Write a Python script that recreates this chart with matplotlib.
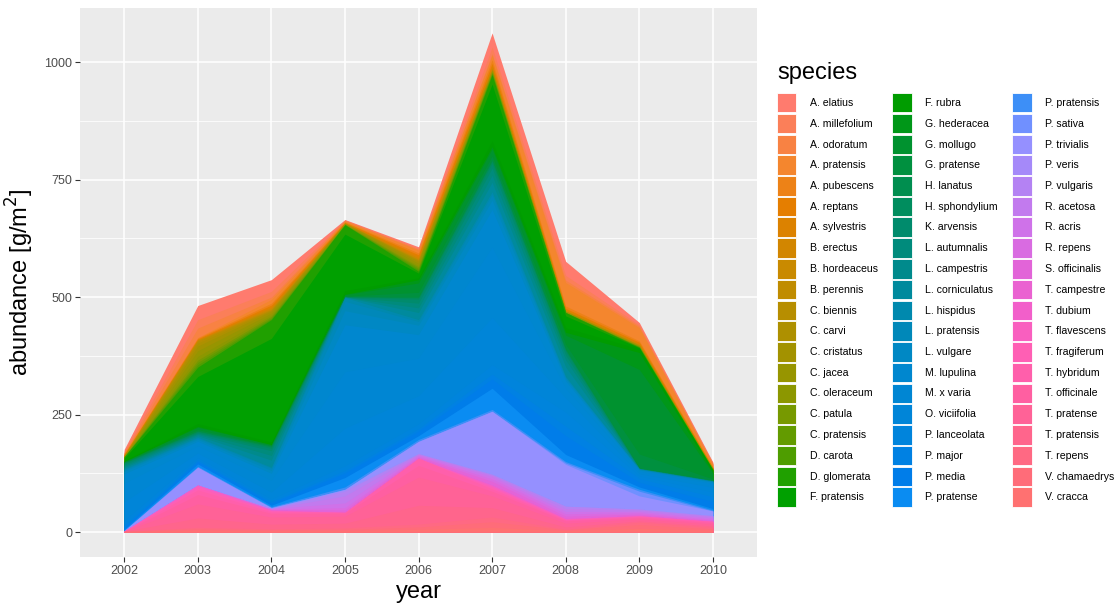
import numpy as np
import matplotlib.pyplot as plt
from matplotlib.patches import Rectangle
from matplotlib.colors import to_rgb
from matplotlib.ticker import MultipleLocator

plt.rcParams['font.family'] = ['Liberation Sans', 'DejaVu Sans']

years = [2002, 2003, 2004, 2005, 2006, 2007, 2008, 2009, 2010]

species = [
    "A. elatius", "A. millefolium", "A. odoratum", "A. pratensis", "A. pubescens",
    "A. reptans", "A. sylvestris", "B. erectus", "B. hordeaceus", "B. perennis",
    "C. biennis", "C. carvi", "C. cristatus", "C. jacea", "C. oleraceum",
    "C. patula", "C. pratensis", "D. carota", "D. glomerata", "F. pratensis",
    "F. rubra", "G. hederacea", "G. mollugo", "G. pratense", "H. lanatus",
    "H. sphondylium", "K. arvensis", "L. autumnalis", "L. campestris", "L. corniculatus",
    "L. hispidus", "L. pratensis", "L. vulgare", "M. lupulina", "M. x varia",
    "O. viciifolia", "P. lanceolata", "P. major", "P. media", "P. pratense",
    "P. pratensis", "P. sativa", "P. trivialis", "P. veris", "P. vulgaris",
    "R. acetosa", "R. acris", "R. repens", "S. officinalis", "T. campestre",
    "T. dubium", "T. flavescens", "T. fragiferum", "T. hybridum", "T. officinale",
    "T. pratense", "T. pratensis", "T. repens", "V. chamaedrys", "V. cracca",
]

# abundance [g/m2] per species and year, 2002..2010
grasses_a_to_f = [
    [4, 30, 25, 1, 3, 30, 30, 5, 2],        # A. elatius
    [3, 18, 12, 1, 2, 14, 10, 3, 2],        # A. millefolium
    [1, 20, 5, 1, 2, 3, 5, 3, 1],           # A. odoratum
    [2, 1, 8, 2, 6, 10, 50, 28, 5],         # A. pratensis
    [1, 2, 4, 1, 4, 8, 5, 3, 2],            # A. pubescens
    [1, 1, 3, 1, 3, 5, 2, 2, 1],            # A. reptans
    [1, 1, 2, 1, 3, 3, 2, 2, 1],            # A. sylvestris
    [0, 1, 2, 0, 2, 2, 1, 1, 0],            # B. erectus
    [0, 0, 2, 0, 2, 2, 1, 1, 0],            # B. hordeaceus
    [1, 2, 1, 0, 1, 0, 0, 0, 0],            # B. perennis
    [0, 4, 1, 0, 1, 1, 0, 0, 0],            # C. biennis
    [0, 6, 2, 0, 2, 1, 0, 1, 0],            # C. carvi
    [1, 10, 4, 1, 4, 2, 1, 1, 1],           # C. cristatus
    [1, 12, 4, 1, 5, 2, 1, 1, 1],           # C. jacea
    [0, 8, 3, 0, 3, 1, 1, 0, 0],            # C. oleraceum
    [0, 5, 3, 1, 3, 1, 0, 1, 0],            # C. patula
    [0, 5, 2, 0, 3, 2, 0, 0, 0],            # C. pratensis
    [0, 5, 2, 0, 3, 2, 0, 1, 0],            # D. carota
    [3, 20, 40, 20, 4, 20, 7, 1, 1],        # D. glomerata
    [5, 100, 220, 120, 10, 120, 25, 2, 1],  # F. pratensis
]

species_f_to_p = [
    [2, 6, 6, 8, 4, 13, 10, 8, 4],          # F. rubra
    [0, 2, 0, 1, 7, 5, 6, 36, 2],           # G. hederacea
    [1, 5, 2, 3, 20, 15, 20, 180, 12],      # G. mollugo
    [1, 3, 1, 1, 10, 8, 10, 30, 3],         # G. pratense
    [1, 1, 2, 0, 2, 3, 2, 0, 0],            # H. lanatus
    [1, 2, 3, 1, 3, 5, 3, 1, 1],            # H. sphondylium
    [3, 2, 5, 0, 8, 10, 8, 0, 0],           # K. arvensis
    [3, 2, 10, 0, 10, 15, 10, 0, 0],        # L. autumnalis
    [3, 3, 10, 0, 10, 15, 15, 0, 0],        # L. campestris
    [3, 3, 15, 1, 15, 20, 20, 1, 1],        # L. corniculatus
    [2, 2, 2, 8, 4, 6, 2, 0, 0],            # L. hispidus
    [3, 3, 5, 20, 8, 12, 3, 1, 1],          # L. pratensis
    [5, 4, 6, 30, 20, 20, 5, 1, 1],         # L. vulgare
    [20, 10, 15, 100, 50, 80, 16, 3, 3],    # M. lupulina
    [40, 15, 25, 120, 80, 150, 20, 5, 8],   # M. x varia
    [40, 10, 15, 80, 60, 100, 30, 5, 10],   # O. viciifolia
    [10, 5, 5, 10, 10, 20, 30, 5, 10],      # P. lanceolata
    [3, 3, 3, 5, 5, 10, 20, 8, 10],         # P. major
    [5, 5, 5, 10, 10, 20, 40, 10, 15],      # P. media
    [2, 5, 3, 20, 8, 45, 15, 5, 3],         # P. pratense
]

species_p_to_v = [
    [1, 2, 2, 5, 4, 4, 3, 4, 2],            # P. pratensis
    [0, 0, 0, 0, 0, 0, 3, 10, 0],           # P. sativa
    [1, 38, 2, 1, 26, 134, 89, 28, 10],     # P. trivialis
    [0, 0, 0, 3, 0, 0, 0, 0, 0],            # P. veris
    [0, 0, 0, 10, 1, 2, 5, 2, 2],           # P. vulgaris
    [0, 0, 0, 15, 2, 3, 6, 3, 3],           # R. acetosa
    [0, 0, 1, 10, 2, 5, 5, 3, 3],           # R. acris
    [0, 0, 1, 5, 2, 5, 5, 3, 2],            # R. repens
    [0, 0, 1, 5, 3, 8, 5, 3, 2],            # S. officinalis
    [0, 0, 0, 0, 0, 0, 0, 0, 0],            # T. campestre
    [0, 2, 1, 0, 0, 2, 1, 0, 0],            # T. dubium
    [0, 3, 1, 0, 0, 3, 1, 1, 0],            # T. flavescens
    [0, 5, 2, 0, 0, 3, 1, 1, 1],            # T. fragiferum
    [0, 10, 3, 2, 15, 5, 2, 2, 2],          # T. hybridum
    [0, 20, 8, 6, 25, 10, 5, 3, 3],         # T. officinale
    [0, 30, 15, 15, 60, 25, 8, 4, 4],       # T. pratense
    [0, 20, 10, 10, 40, 20, 5, 3, 3],       # T. pratensis
    [0, 3, 2, 3, 6, 10, 1, 5, 3],           # T. repens
    [1, 3, 2, 3, 5, 12, 2, 8, 3],           # V. chamaedrys
    [1, 4, 3, 3, 6, 10, 3, 8, 4],           # V. cracca
]

abundance = np.array(grasses_a_to_f + species_f_to_p + species_p_to_v, dtype=float)

# hue ramp through the species, built from a few fixed stops
stops = {
    0: "#FF7B6E", 3: "#F4862E", 5: "#E57E00", 8: "#C98A00", 11: "#AE9000",
    14: "#8C9700", 17: "#4E9D00", 18: "#20A000", 19: "#00A000", 20: "#009C00",
    22: "#00922F", 24: "#008E4F", 26: "#008B6C", 28: "#008A8C", 30: "#0089AE",
    33: "#0087CF", 36: "#0084DC", 38: "#007DE9", 39: "#0A8CF2", 40: "#3D8FF7",
    41: "#7090FF", 42: "#9590FF", 44: "#B482F3", 46: "#CF72E9", 48: "#E264D8",
    50: "#F25FCA", 52: "#FF5FB4", 54: "#FF5FA1", 56: "#FF658C", 58: "#FF6C79",
    59: "#FF7171",
}
idx = np.array(sorted(stops))
rgb = np.array([to_rgb(stops[k]) for k in idx])
n = len(species)
colors = [tuple(np.interp(i, idx, rgb[:, c]) for c in range(3)) for i in range(n)]

fig = plt.figure(figsize=(11.18, 6.05), dpi=100)
W, H = 1118, 605
ax = fig.add_axes([80 / W, 1 - 557 / H, (757 - 80) / W, (557 - 8) / H])
ax.set_facecolor("#EBEBEB")

# stacked areas: the last species sits at the bottom, the first on top.
# Each layer is filled down to zero and painted over by the ones below it,
# so neighbouring layers share no seam.
tops = np.cumsum(abundance[::-1], axis=0)[::-1]
for i in range(n):
    ax.fill_between(years, 0, tops[i], color=colors[i], linewidth=0)

ax.set_xlim(2001.4, 2010.6)
ax.set_ylim(-53, 1115)
ax.set_xticks(years)
ax.yaxis.set_major_locator(MultipleLocator(250))
ax.yaxis.set_minor_locator(MultipleLocator(125))
ax.grid(which="major", color="white", linewidth=1.1)
ax.grid(which="minor", axis="y", color="white", linewidth=0.55)
ax.set_axisbelow(True)
for s in ax.spines.values():
    s.set_visible(False)
ax.tick_params(which="major", length=3.5, width=0.8, color="#333333",
               labelcolor="#4D4D4D", labelsize=9, pad=2)
ax.tick_params(which="minor", length=0)

ax.set_xlabel("year", fontsize=17, labelpad=3)
ax.set_ylabel("abundance [g/m$^2$]", fontsize=17, labelpad=6)

# legend: three columns of twenty keys
fig.text(777 / W, 1 - 79 / H, "species", fontsize=17, ha="left", va="baseline")
col_x = [777, 892, 1012]
text_dx = 33
for i, name in enumerate(species):
    col, row = divmod(i, 20)
    x0 = col_x[col]
    y0 = 93 + row * 20.75
    fig.add_artist(Rectangle((x0 / W, 1 - (y0 + 19.5) / H), 19.5 / W, 19.5 / H,
                             transform=fig.transFigure, facecolor=colors[i],
                             edgecolor="white", linewidth=0.6))
    fig.text((x0 + text_dx) / W, 1 - (y0 + 10) / H, name, fontsize=7.6,
             ha="left", va="center", color="black")

fig.savefig("out.png", dpi=100)
